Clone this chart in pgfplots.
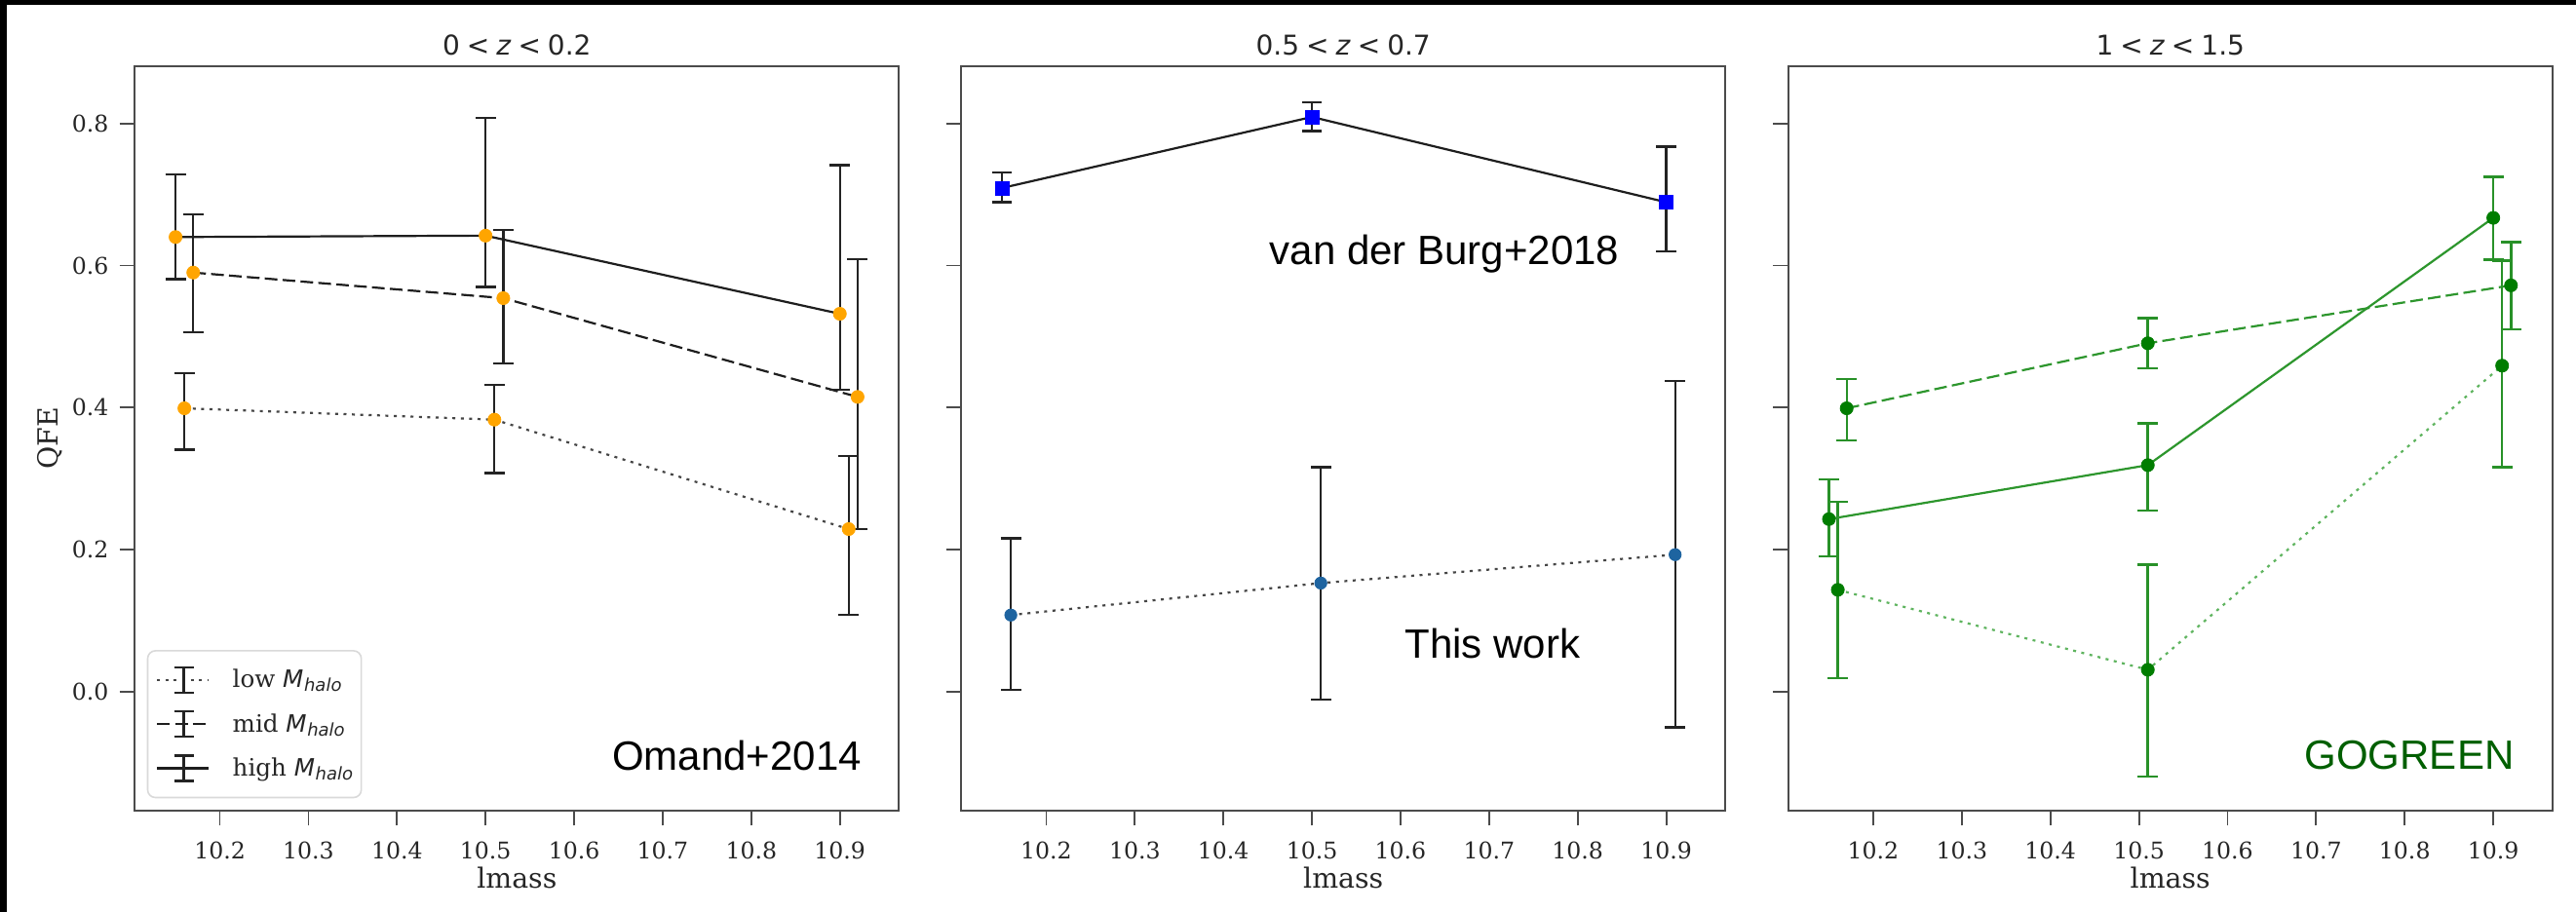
\documentclass[border=0pt]{standalone}
\usepackage{fontspec}
\setmainfont{DejaVu Serif}
\newfontfamily\dvs{DejaVu Sans}
\newfontfamily\annfam{Liberation Sans}
\usepackage{pgfplots}
\usepackage{pgfplotstable}
\pgfplotsset{compat=1.18}

\definecolor{orangec}{RGB}{255,165,0}
\definecolor{lineK}{RGB}{30,30,30}
\definecolor{dotK}{RGB}{70,70,70}
\definecolor{barK}{RGB}{35,35,35}
\definecolor{frameK}{RGB}{75,75,75}
\definecolor{vdbBlue}{RGB}{0,0,255}
\definecolor{twBlue}{RGB}{30,100,160}
\definecolor{gMark}{RGB}{0,125,0}
\definecolor{gBar}{RGB}{40,145,40}
\definecolor{gLine}{RGB}{45,150,45}
\definecolor{gDot}{RGB}{95,180,95}
\definecolor{gText}{RGB}{0,95,0}

% Omand+2014 (0<z<0.2)
\pgfplotstableread{
x y lo hi
10.16 0.399 0.341 0.448
10.51 0.383 0.308 0.432
10.91 0.229 0.108 0.332
}\Alow
\pgfplotstableread{
x y lo hi
10.17 0.590 0.506 0.672
10.52 0.554 0.462 0.650
10.92 0.415 0.229 0.609
}\Amid
\pgfplotstableread{
x y lo hi
10.15 0.640 0.581 0.728
10.50 0.642 0.570 0.808
10.90 0.532 0.425 0.741
}\Ahigh
% 0.5<z<0.7
\pgfplotstableread{
x y lo hi
10.15 0.709 0.689 0.731
10.50 0.809 0.789 0.830
10.90 0.689 0.620 0.767
}\Bvdb
\pgfplotstableread{
x y lo hi
10.16 0.108 0.003 0.216
10.51 0.153 -0.011 0.316
10.91 0.193 -0.050 0.4375
}\Btw
% GOGREEN (1<z<1.5)
\pgfplotstableread{
x y lo hi
10.16 0.1435 0.019 0.267
10.51 0.031 -0.119 0.179
10.91 0.459 0.316 0.607
}\Clow
\pgfplotstableread{
x y lo hi
10.17 0.399 0.354 0.440
10.51 0.4905 0.455 0.526
10.92 0.572 0.510 0.633
}\Cmid
\pgfplotstableread{
x y lo hi
10.15 0.243 0.191 0.299
10.51 0.319 0.255 0.378
10.90 0.667 0.608 0.7245
}\Chigh

\newcommand\Mh{{\dvs\itshape M\kern0.3pt\raisebox{-0.3ex}{\fontsize{9}{9}\selectfont halo}}}
\newcommand\zs{\hspace{0.25em}}

\pgfplotsset{
  panel/.style={
    scale only axis, width=392pt, height=382pt,
    xmin=10.104, xmax=10.9667, ymin=-0.1669, ymax=0.8808,
    xtick={10.2,10.3,10.4,10.5,10.6,10.7,10.8,10.9},
    ytick={0,0.2,0.4,0.6,0.8},
    tick pos=left, tick align=outside, major tick length=7.8pt,
    tick style={frameK, line width=0.9pt},
    axis line style={frameK, line width=0.9pt},
    ticklabel style={font=\fontsize{11.8}{12}\selectfont, text=black!85, inner sep=0pt},
    xticklabel shift=8pt, yticklabel shift=5.5pt,
    xlabel={lmass},
    xlabel style={at={(axis description cs:0.5,-0.1051)}, anchor=base, inner sep=0pt, font=\fontsize{14.2}{15}\selectfont, text=black!85},
    every axis title/.style={at={(0.5,1)}, anchor=base, yshift=5.5pt, inner sep=0pt, font=\dvs\fontsize{14}{14}\selectfont, text=black!85},
    /pgf/number format/.cd, fixed, fixed zerofill, precision=1, assume math mode=true, /pgfplots/.cd,
  },
  ebars/.style={error bars/.cd, y dir=both, y explicit,
     error bar style={solid, line width=1.2pt, color=#1},
     error mark options={solid, rotate=90, mark size=5.2pt, line width=1.2pt, color=#1}},
  ebleg/.style={legend image code/.code={
     \draw[##1, line width=1.1pt] (0pt,0pt) -- (26.2pt,0pt);
     \draw[solid, line width=1.1pt, barK] (13.7pt,-6.5pt) -- (13.7pt,6.5pt) (8.7pt,-6.5pt) -- (18.7pt,-6.5pt) (8.7pt,6.5pt) -- (18.7pt,6.5pt);}},
  dashsty/.style={dash pattern=on 6.5pt off 2.7pt},
  dotsty/.style={dash pattern=on 1.5pt off 2.8pt},
  /pgfplots/table/errcols/.style={x=x, y=y, y error plus expr=\thisrow{hi}-\thisrow{y}, y error minus expr=\thisrow{y}-\thisrow{lo}},
}

\begin{document}
\begin{tikzpicture}
\fill[black] (0,0) rectangle (1321.5pt,468pt);
\fill[white] (3.5pt,0pt) rectangle (1321.5pt,465.5pt);

% ---------- Panel 1 ----------
\begin{axis}[panel, at={(69.15pt,52.15pt)}, anchor=south west,
  title={0\zs<\zs\textit{z}\zs<\zs0.2},
  ylabel={QFE},
  ylabel style={at={(axis description cs:-0.0999,0.5)}, anchor=base, inner sep=0pt, font=\fontsize{14.2}{15}\selectfont, text=black!85},
  legend cell align=left,
  legend style={at={(axis description cs:0.0158,0.0162)}, anchor=south west, draw=black!15, line width=0.8pt, rounded corners=4pt, fill=white, font=\fontsize{12.3}{12.3}\selectfont, text=black!85, inner xsep=4.3pt, inner ysep=8pt, row sep=8.5pt, nodes={inner sep=0pt}, /tikz/every odd column/.style={column sep=12pt}, /tikz/every even column/.style={column sep=0pt}},
]
\addplot[only marks, mark=*, mark size=3.3pt, color=orangec, forget plot] table[x=x,y=y]{\Alow};
\addplot[only marks, mark=*, mark size=3.3pt, color=orangec, forget plot] table[x=x,y=y]{\Amid};
\addplot[only marks, mark=*, mark size=3.3pt, color=orangec, forget plot] table[x=x,y=y]{\Ahigh};
\addplot[dotK, line width=1.1pt, dotsty, mark=none, ebleg, ebars=barK] table[errcols]{\Alow};
\addlegendentry{low \Mh\hspace{6pt}}
\addplot[lineK, line width=1.1pt, dashsty, mark=none, ebleg, ebars=barK] table[errcols]{\Amid};
\addlegendentry{mid \Mh\hspace{6pt}}
\addplot[lineK, line width=1.1pt, mark=none, ebleg, ebars=barK] table[errcols]{\Ahigh};
\addlegendentry{high \Mh\hspace{6pt}}
\end{axis}

% ---------- Panel 2 ----------
\begin{axis}[panel, at={(493.1pt,52.15pt)}, anchor=south west,
  title={0.5\zs<\zs\textit{z}\zs<\zs0.7},
  yticklabels={,,,,},
]
\addplot[only marks, mark=square*, mark size=3.5pt, color=vdbBlue, forget plot] table[x=x,y=y]{\Bvdb};
\addplot[only marks, mark=*, mark size=3.1pt, color=twBlue, forget plot] table[x=x,y=y]{\Btw};
\addplot[lineK, line width=1.1pt, mark=none, ebars=barK] table[errcols]{\Bvdb};
\addplot[dotK, line width=1.1pt, dotsty, mark=none, ebars=barK] table[errcols]{\Btw};
\end{axis}

% ---------- Panel 3 ----------
\begin{axis}[panel, at={(917.35pt,52.15pt)}, anchor=south west,
  title={1\zs<\zs\textit{z}\zs<\zs1.5},
  yticklabels={,,,,},
]
\addplot[gDot, line width=1.1pt, dotsty, mark=none, ebars=gBar] table[errcols]{\Clow};
\addplot[gLine, line width=1.1pt, dashsty, mark=none, ebars=gBar] table[errcols]{\Cmid};
\addplot[gLine, line width=1.1pt, mark=none, ebars=gBar] table[errcols]{\Chigh};
\addplot[only marks, mark=*, mark size=3.3pt, color=gMark] table[x=x,y=y]{\Clow};
\addplot[only marks, mark=*, mark size=3.3pt, color=gMark] table[x=x,y=y]{\Cmid};
\addplot[only marks, mark=*, mark size=3.3pt, color=gMark] table[x=x,y=y]{\Chigh};
\end{axis}

% ---------- annotations ----------
\node[anchor=base east, inner sep=0pt, font=\annfam\fontsize{21}{22}\selectfont] at (442.15pt,72.85pt) {Omand+2014};
\node[anchor=base east, inner sep=0pt, font=\annfam\fontsize{21}{22}\selectfont] at (830.85pt,332.15pt) {van der Burg+2018};
\node[anchor=base east, inner sep=0pt, font=\annfam\fontsize{21}{22}\selectfont] at (810.85pt,130.35pt) {This work};
\node[anchor=base east, inner sep=0pt, font=\annfam\fontsize{21}{22}\selectfont, text=gText] at (1289.85pt,73.35pt) {GOGREEN};

\pgfresetboundingbox
\useasboundingbox (0,0) rectangle (1321.5pt,468pt);
\end{tikzpicture}
\end{document}
